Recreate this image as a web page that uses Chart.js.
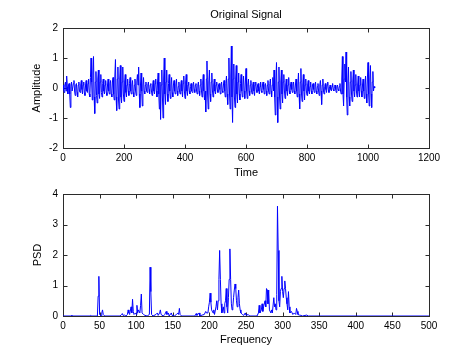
<!DOCTYPE html>
<html>
<head>
<meta charset="utf-8">
<script src="https://cdn.jsdelivr.net/npm/chart.js@4/dist/chart.umd.min.js"></script>
<style>
  html, body { margin: 0; padding: 0; background: #fff; }
  #wrap { position: relative; width: 474px; height: 355px; }
  canvas { position: absolute; left: 0; top: 0; }
</style>
</head>
<body>
<div id="wrap">
  <canvas id="c1" width="474" height="355"></canvas>
  <canvas id="c2" width="474" height="355"></canvas>
</div>
<script>
// ---- Data ----
const sampleStep = 2; // one estimated value every 2 samples
const signal = [
  0.1, -0.05, -0.15, 0.1, 0.2, -0.1, 0.4, 0.05, -0.2, 0.1, 0.15, -0.2, -0.65, 0.05, 0.2, -0.1, -0.1, 0.15, 0.25, -0.1, -0.25, 0.1, 0.15, -0.15, -0.3, 0.1, 0.2, -0.1, -0.15, 0.1, 0.25, -0.05,
  -0.2, 0.1, 0.2, -0.15, -0.25, 0.1, 0.25, -0.1, -0.15, 0.15, 0.3, -0.2, -0.3, 0.35, 1.0, 0.2, -0.4, 0.5, 1.05, -0.3, -0.85, 0.2, 0.55, -0.25, -0.5, 0.3, 0.6, -0.2, -0.35, 0.2, 0.45, -0.15,
  -0.3, 0.15, 0.3, -0.1, -0.2, 0.1, 0.25, -0.15, -0.25, 0.1, 0.3, -0.1, -0.2, 0.15, 0.25, -0.2, -0.3, 0.2, 0.35, -0.2, -0.4, 0.4, 0.95, -0.3, -0.75, 0.3, 0.7, -0.4, -0.7, 0.3, 0.75, -0.3,
  -0.5, 0.2, 0.7, -0.2, -0.45, 0.2, 0.45, -0.15, -0.3, 0.1, 0.3, -0.1, -0.25, 0.15, 0.35, -0.1, -0.2, 0.1, 0.25, -0.15, -0.3, 0.1, 0.3, -0.1, -0.25, 0.2, 0.45, 0.1, 0.7, -0.2, -0.65, 0.1,
  0.5, -0.1, -0.6, 0.1, 0.35, -0.1, -0.2, 0.1, 0.2, -0.1, -0.15, 0.1, 0.2, -0.05, -0.2, 0.1, 0.15, -0.1, -0.25, 0.1, 0.25, -0.1, -0.2, 0.15, 0.3, -0.1, -0.3, 0.2, 0.5, -0.2, -0.7, 0.2,
  -1.05, 0.1, 0.6, -0.3, -1.0, 0.3, 1.0, -0.2, -0.55, 0.2, 0.6, -0.2, -0.45, 0.15, 0.45, -0.1, -0.35, 0.1, 0.35, -0.15, -0.3, 0.1, 0.25, -0.1, -0.2, 0.1, 0.3, -0.1, -0.25, 0.05, 0.2, -0.1,
  -0.2, 0.1, 0.25, -0.1, -0.3, 0.15, 0.4, -0.1, -0.35, 0.2, 0.45, -0.1, -0.25, 0.1, 0.2, -0.1, -0.2, 0.05, 0.15, -0.1, -0.15, 0.1, 0.2, -0.05, -0.15, 0.1, 0.15, -0.1, -0.2, 0.1, 0.2, -0.1,
  -0.25, 0.1, 0.3, -0.1, -0.3, 0.2, 0.45, -0.1, -0.4, -0.1, -0.8, 0.3, 0.9, -0.2, -0.7, 0.2, 0.6, -0.2, -0.45, 0.2, 0.5, -0.1, -0.3, 0.1, 0.3, -0.1, -0.2, 0.1, 0.2, -0.05, -0.15, 0.1,
  0.15, -0.05, -0.2, 0.1, 0.2, -0.1, -0.15, 0.1, 0.25, -0.1, -0.3, 0.15, 0.4, -0.2, -0.55, 0.3, 1.0, -0.2, -0.7, 0.4, 1.4, -0.3, -1.15, 0.3, 0.8, -0.3, -0.65, 0.3, 0.75, -0.2, -0.5, 0.2,
  0.5, -0.2, -0.4, 0.15, 0.45, -0.1, -0.3, 0.1, 0.4, -0.1, -0.35, 0.2, 0.65, -0.1, -0.35, 0.1, 0.3, -0.1, -0.25, 0.1, 0.25, -0.1, -0.2, 0.1, 0.2, -0.1, -0.25, 0.1, 0.2, -0.05, -0.15, 0.1,
  0.15, -0.1, -0.2, 0.05, 0.2, -0.1, -0.15, 0.1, 0.2, -0.05, -0.2, 0.1, 0.15, -0.1, -0.25, 0.1, 0.25, -0.1, -0.2, 0.15, 0.3, -0.1, -0.3, 0.1, 0.35, -0.1, 0.6, -0.3, -0.9, 0.2, 0.85, -0.3,
  -1.15, 0.2, 0.7, -0.3, -0.7, 0.2, 0.6, -0.2, -0.5, 0.2, 0.45, -0.1, -0.35, 0.1, 0.3, -0.1, -0.25, 0.1, 0.35, -0.1, -0.2, 0.1, 0.2, -0.05, -0.15, 0.1, 0.2, -0.1, -0.2, 0.1, 0.3, -0.1,
  -0.3, 0.1, 0.5, -0.2, -0.7, 0.2, 0.65, -0.2, -0.45, 0.1, 0.45, -0.1, -0.4, 0.1, 0.3, -0.1, -0.25, 0.1, 0.25, -0.1, -0.2, 0.05, 0.2, -0.1, -0.2, 0.1, 0.15, -0.05, -0.15, 0.1, 0.2, -0.1,
  -0.2, 0.05, 0.15, -0.1, -0.25, 0.1, 0.25, -0.1, -0.55, 0.1, 0.3, -0.1, -0.2, 0.05, 0.15, -0.05, -0.15, 0.1, 0.2, -0.05, -0.15, 0.05, 0.1, -0.05, -0.1, 0.05, 0.15, -0.05, -0.1, 0.05, 0.1, -0.05,
  -0.15, 0.05, 0.1, -0.05, -0.1, 0.05, 0.15, -0.1, -0.2, 0.3, 1.05, -0.2, -0.6, 0.3, 0.8, 0.2, 1.2, -0.3, -0.9, 0.2, 0.7, -0.3, -0.6, 0.2, 0.55, -0.2, -0.45, 0.2, 0.6, -0.1, -0.3, 0.1,
  0.45, -0.1, -0.3, 0.1, 0.4, -0.1, -0.3, 0.1, 0.35, -0.1, -0.3, 0.1, 0.3, -0.1, -0.35, 0.1, 0.4, -0.2, -0.5, 0.3, 0.85, -0.2, -0.6, 0.3, 0.75, -0.2, -0.65, 0.2, 0.55, -0.1, 0.05, 0.0
];
const time = signal.map((_, i) => i * sampleStep);

const psdFreq = [
  0, 11, 12, 13, 37, 38, 39,
  47, 48, 49, 50, 52, 53, 54, 55, 57,
  78, 80, 81, 82, 84, 86,
  88, 89, 90, 91, 93, 94, 95, 96, 97, 99, 100, 101, 102, 103, 105, 106, 107, 108, 110, 112, 115,
  118, 119, 120, 121, 123,
  127, 129, 130, 132, 133, 134, 137, 139, 141, 142, 144, 145, 148, 149, 152, 155, 157, 158, 159, 160, 162,
  180, 182, 183, 186, 187, 190, 193,
  195, 196, 198, 199, 200, 201, 202, 203, 205, 206, 207, 209, 210, 211, 212, 213, 214, 215, 216, 217,
  219, 220, 221, 222, 223, 224, 225, 226, 227, 228, 229, 230, 231, 232, 233, 234, 235, 236, 237, 238,
  239, 240, 241, 242, 243, 245, 247, 249, 250, 253, 255,
  265, 267, 268, 269, 271, 272, 273, 274, 276, 277, 278, 279, 280, 281, 282, 284, 285, 286, 288, 289,
  290, 291, 292, 293, 294, 295, 296, 297, 298, 299, 300, 301, 302, 303, 304, 305, 306, 307, 308, 309,
  310, 312, 314, 316, 318, 319, 320, 321, 323, 325, 327, 333, 335, 500
];
const psdValue = [
  0, 0, 0.03, 0, 0, 0.02, 0,
  0, 0.65, 1.3, 0.05, 0, 0.1, 0.2, 0.05, 0,
  0, 0.05, 0.08, 0.02, 0.03, 0,
  0.05, 0.2, 0.1, 0.05, 0.3, 0.1, 0.55, 0.15, 0.05, 0.1, 0.05, 0.35, 0.1, 0.2, 0.1, 0.35, 0.72, 0.1, 0.05, 0.02, 0,
  0.05, 1.6, 0.8, 0.05, 0,
  0.05, 0.1, 0.02, 0.1, 0.2, 0.05, 0, 0.05, 0.15, 0.05, 0.1, 0, 0.1, 0.02, 0, 0.05, 0.1, 0.05, 0.25, 0.05, 0,
  0, 0.08, 0.02, 0.1, 0, 0.03, 0.05,
  0.15, 0.1, 0.1, 0.3, 0.45, 0.75, 0.45, 0.2, 0.1, 0.2, 0.05, 0.3, 0.5, 0.2, 0.5, 1.2, 2.15, 1.2, 0.4, 0.1,
  0.3, 0.1, 0.4, 0.5, 0.9, 0.3, 0.1, 0.6, 1.2, 2.2, 1.2, 0.4, 0.2, 0.3, 0.6, 0.85, 1.05, 0.9, 0.5, 0.3,
  0.6, 0.85, 0.4, 0.2, 0.1, 0.05, 0.02, 0.1, 0.02, 0.05, 0,
  0, 0.1, 0.35, 0.1, 0.2, 0.4, 0.15, 0.3, 0.5, 0.3, 0.9, 0.85, 0.4, 0.85, 0.2, 0.1, 0.2, 0.1, 0.6, 0.3,
  0.4, 0.2, 0.7, 3.6, 2.15, 0.5, 0.3, 0.8, 0.9, 1.3, 0.8, 0.6, 0.9, 1.15, 0.9, 0.6, 0.4, 0.2, 0.8, 0.3,
  0.1, 0.15, 0.05, 0.1, 0.05, 0.25, 0.15, 0.05, 0.03, 0.02, 0, 0.03, 0, 0
];

const timeTicks = { min: 0, max: 1200, step: 200 };
const ampTicks = { min: -2, max: 2, step: 1 };
const freqTicks = { min: 0, max: 500, step: 50 };
const psdTicks = { min: 0, max: 4, step: 1 };

// ---- Styling ----
const FONT = "'Liberation Sans', Arial, Helvetica, sans-serif";
const LINE = '#0000ff';
const AXIS = '#2b2b2b';

const framePlugin = {
  id: 'matlabFrame',
  beforeDatasetsDraw(chart) {
    const { ctx, chartArea: a, scales: { x, y } } = chart;
    ctx.save();
    ctx.strokeStyle = AXIS;
    ctx.lineWidth = 1;
    const L = Math.round(a.left) + 0.5, R = Math.round(a.right) + 0.5;
    const T = Math.round(a.top) + 0.5, B = Math.round(a.bottom) + 0.5;
    ctx.strokeRect(L, T, R - L, B - T);
    const tl = 4;
    ctx.beginPath();
    x.ticks.forEach(t => {
      const px = Math.round(x.getPixelForValue(t.value)) + 0.5;
      ctx.moveTo(px, B); ctx.lineTo(px, B - tl);
      ctx.moveTo(px, T); ctx.lineTo(px, T + tl);
    });
    y.ticks.forEach(t => {
      const py = Math.round(y.getPixelForValue(t.value)) + 0.5;
      ctx.moveTo(L, py); ctx.lineTo(L + tl, py);
      ctx.moveTo(R, py); ctx.lineTo(R - tl, py);
    });
    ctx.stroke();
    ctx.restore();
  },
  afterDraw(chart, args, opts) {
    const { ctx, chartArea: a } = chart;
    ctx.save();
    ctx.fillStyle = '#000';
    ctx.font = '11px ' + FONT;
    ctx.textAlign = 'center';
    ctx.textBaseline = 'middle';
    const cx = (a.left + a.right) / 2;
    if (opts.title) ctx.fillText(opts.title, cx, opts.titleY);
    if (opts.xLabel) ctx.fillText(opts.xLabel, cx, opts.xLabelY);
    if (opts.yLabel) {
      ctx.save();
      ctx.translate(opts.yLabelX, (a.top + a.bottom) / 2);
      ctx.rotate(-Math.PI / 2);
      ctx.fillText(opts.yLabel, 0, 0);
      ctx.restore();
    }
    ctx.restore();
  }
};

function makeScales(xt, yt) {
  const tickFont = { family: FONT, size: 10 };
  const plain = v => String(v);
  return {
    x: {
      type: 'linear', min: xt.min, max: xt.max,
      ticks: { stepSize: xt.step, padding: 4, color: '#000', font: tickFont, maxRotation: 0, autoSkip: false, callback: plain },
      grid: { display: false, drawTicks: false }, border: { display: false },
      afterFit(s) { s.height = 20; }
    },
    y: {
      type: 'linear', min: yt.min, max: yt.max,
      ticks: { stepSize: yt.step, padding: 5, color: '#000', font: tickFont, callback: plain },
      grid: { display: false, drawTicks: false }, border: { display: false },
      afterFit(s) { s.width = 40; }
    }
  };
}

new Chart(document.getElementById('c1'), {
  type: 'line',
  data: {
    datasets: [{
      data: signal.map((v, i) => ({ x: time[i], y: v })),
      borderColor: LINE, borderWidth: 1, pointRadius: 0, tension: 0, fill: false
    }]
  },
  options: {
    responsive: false, animation: false, devicePixelRatio: 1,
    layout: { padding: { left: 23, right: 45, top: 28, bottom: 187 } },
    scales: makeScales(timeTicks, ampTicks),
    plugins: {
      legend: { display: false }, tooltip: { enabled: false },
      matlabFrame: { title: 'Original Signal', titleY: 15, xLabel: 'Time', xLabelY: 173, yLabel: 'Amplitude', yLabelX: 37 }
    }
  },
  plugins: [framePlugin]
});

new Chart(document.getElementById('c2'), {
  type: 'line',
  data: {
    datasets: [{
      data: psdFreq.map((f, i) => ({ x: f, y: psdValue[i] })),
      borderColor: LINE, borderWidth: 1, pointRadius: 0, tension: 0, fill: false
    }]
  },
  options: {
    responsive: false, animation: false, devicePixelRatio: 1,
    layout: { padding: { left: 23, right: 45, top: 194, bottom: 19 } },
    scales: makeScales(freqTicks, psdTicks),
    plugins: {
      legend: { display: false }, tooltip: { enabled: false },
      matlabFrame: { xLabel: 'Frequency', xLabelY: 340, yLabel: 'PSD', yLabelX: 38 }
    }
  },
  plugins: [framePlugin]
});
</script>
</body>
</html>
